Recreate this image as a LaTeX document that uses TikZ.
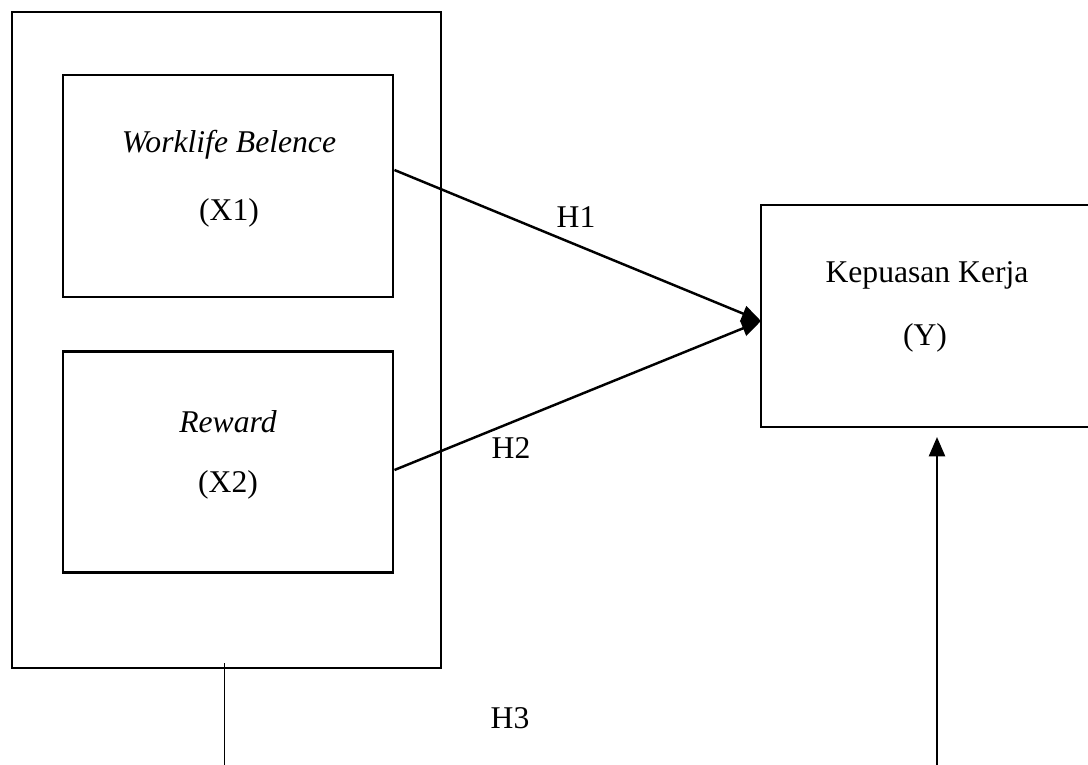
\documentclass[tikz,border=0pt]{standalone}
\usepackage{fontspec}
\setmainfont{Liberation Serif}
\usetikzlibrary{arrows.meta}

\begin{document}
\begin{tikzpicture}[x=0.03cm, y=-0.03cm,
    every node/.style={font=\fontsize{27}{32}\selectfont},
    box/.style={draw, line width=2.5pt, inner sep=0pt},
    link/.style={line width=2.1pt, -{Triangle[length=0.58cm, width=0.48cm]}}]
      \useasboundingbox (0,0) rectangle (1088,765);
      \clip (0,0) rectangle (1088,765);

      % Boxes
      \node[box, minimum width=429*0.03cm, minimum height=656*0.03cm] (vars) at (226.5,340) {};
      \node[box, minimum width=330*0.03cm, minimum height=222*0.03cm] (wlb) at (228,186) {};
      \node[box, minimum width=330*0.03cm, minimum height=221*0.03cm] (rew) at (228,462) {};
      \node[box, minimum width=340*0.03cm, minimum height=222*0.03cm] (kk) at (931,316) {};

      \node (wlbT) at (229,145) {\textit{Worklife Belence}};
      \node (wlbX) at (229,213) {(X1)};
      \node (rewT) at (228,422) {\textit{Reward}};
      \node (rewX) at (228,485) {(X2)};
      \node (kkT) at (927,275) {Kepuasan Kerja};
      \node (kkY) at (925,338) {(Y)};

      \coordinate (hit) at (761,321);
      \coordinate (b3) at (937,770);
      \coordinate (t3) at (937,437);
      \coordinate (s3) at (224,663);
      \coordinate (e3) at (224,770);

      \draw[link] ([yshift=0.48cm]wlb.east) -- (hit);
      \draw[link] ([yshift=-0.24cm]rew.east) -- (hit);
      \draw[link] (b3) -- (t3);
      \draw[line width=0.8pt] (s3) -- (e3);

      \node (h1) at (576,217) {H1};
      \node (h2) at (511,448) {H2};
      \node (h3) at (510,718) {H3};
    \end{tikzpicture}
\end{document}
